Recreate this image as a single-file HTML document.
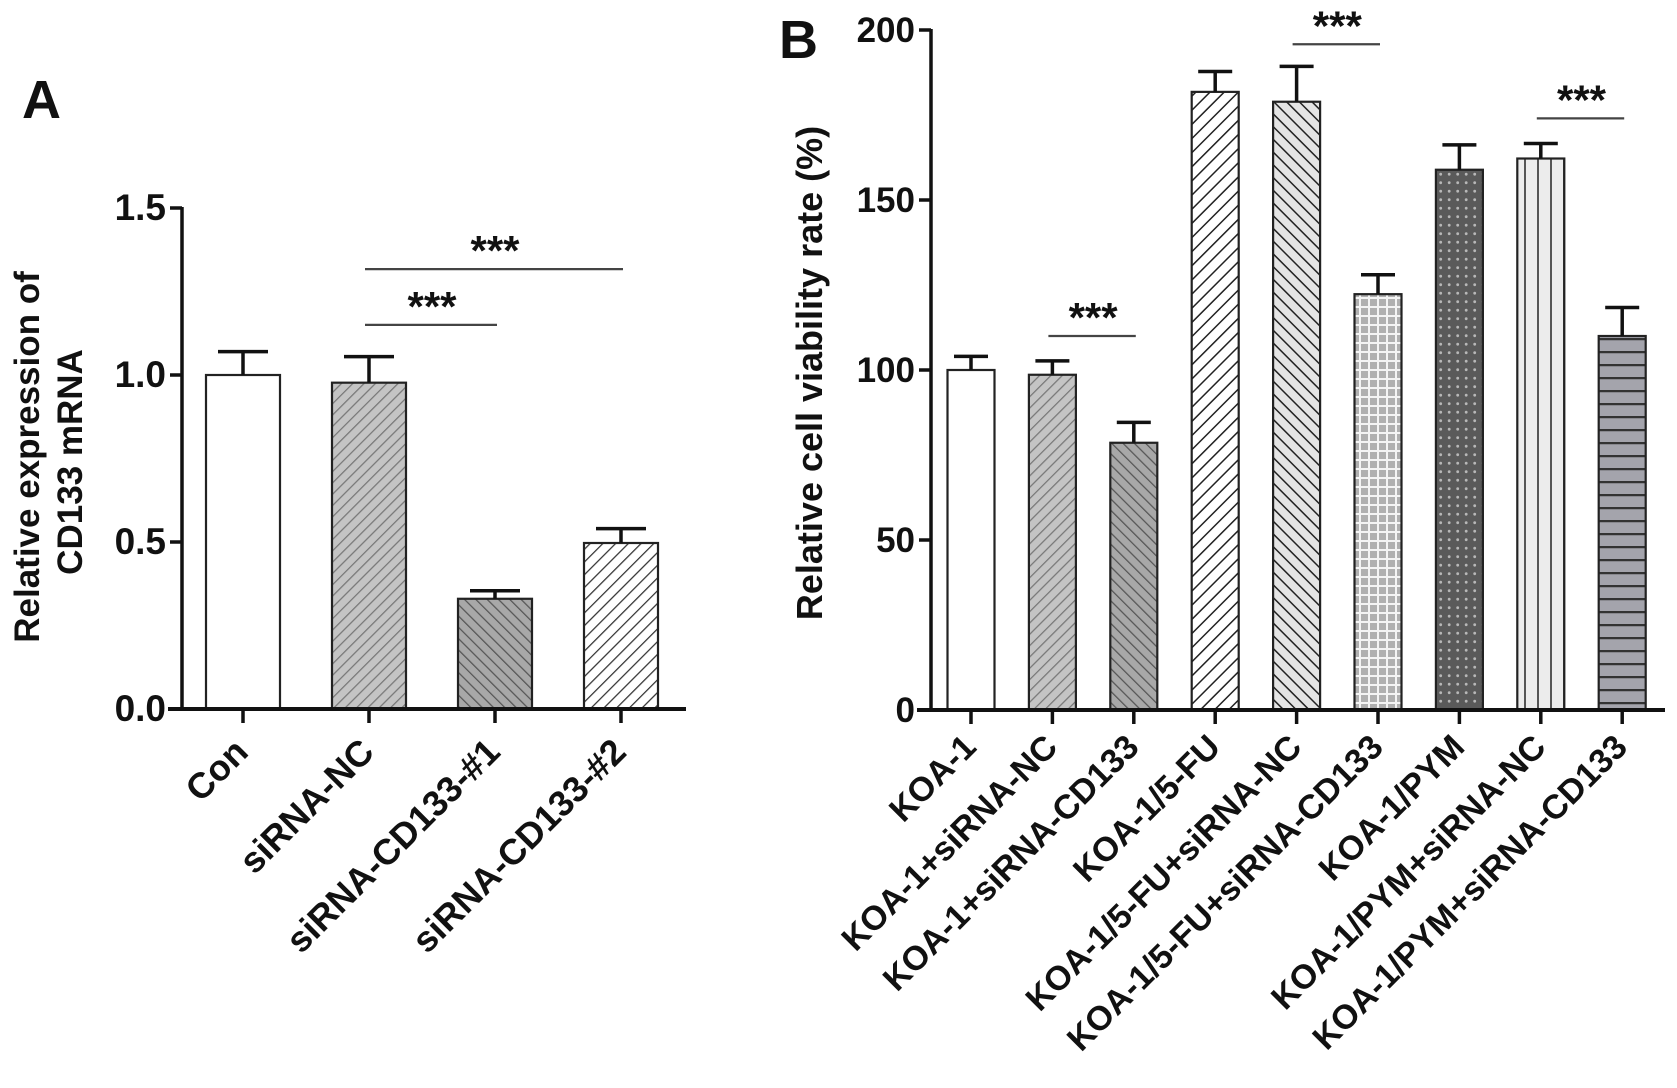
<!DOCTYPE html>
<html><head><meta charset="utf-8"><style>
html,body{margin:0;padding:0;background:#fff;}
svg{display:block;font-family:"Liberation Sans",Arial,sans-serif;font-weight:bold;}
</style></head><body>
<svg id="fig" width="1677" height="1088" viewBox="0 0 1677 1088" xmlns="http://www.w3.org/2000/svg">
<defs>
<pattern id="pA1" patternUnits="userSpaceOnUse" width="8" height="8" patternTransform="rotate(45)"><rect width="8" height="8" fill="#c4c4c4"/><line x1="0" y1="0" x2="0" y2="8" stroke="#777" stroke-width="2.5"/></pattern>
<pattern id="pA2" patternUnits="userSpaceOnUse" width="8" height="8" patternTransform="rotate(-45)"><rect width="8" height="8" fill="#a8a8a8"/><line x1="0" y1="0" x2="0" y2="8" stroke="#555" stroke-width="2.5"/></pattern>
<pattern id="pA3" patternUnits="userSpaceOnUse" width="9" height="9" patternTransform="rotate(45)"><rect width="9" height="9" fill="#fff"/><line x1="0" y1="0" x2="0" y2="9" stroke="#333" stroke-width="2.5"/></pattern>
<pattern id="pB4" patternUnits="userSpaceOnUse" width="10" height="10" patternTransform="rotate(45)"><rect width="10" height="10" fill="#fff"/><line x1="0" y1="0" x2="0" y2="10" stroke="#222" stroke-width="3"/></pattern>
<pattern id="pB5" patternUnits="userSpaceOnUse" width="9" height="9" patternTransform="rotate(-45)"><rect width="9" height="9" fill="#e4e4e4"/><line x1="0" y1="0" x2="0" y2="9" stroke="#222" stroke-width="3"/></pattern>
<pattern id="pB6" patternUnits="userSpaceOnUse" width="9" height="9"><rect width="9" height="9" fill="#b0b0b0"/><line x1="0" y1="1" x2="9" y2="1" stroke="#f4f4f4" stroke-width="2"/><line x1="1" y1="0" x2="1" y2="9" stroke="#f4f4f4" stroke-width="2"/></pattern>
<pattern id="pB7" patternUnits="userSpaceOnUse" width="8.5" height="8.5"><rect width="8.5" height="8.5" fill="#5a5a5a"/><circle cx="4.2" cy="4.2" r="1.4" fill="#b8b8b8"/></pattern>
<pattern id="pB8" patternUnits="userSpaceOnUse" width="13" height="13"><rect width="13" height="13" fill="#ececec"/><line x1="4" y1="0" x2="4" y2="13" stroke="#555" stroke-width="2"/></pattern>
<pattern id="pB9" patternUnits="userSpaceOnUse" width="13" height="13"><rect width="13" height="13" fill="#a4a4ac"/><line x1="0" y1="1" x2="13" y2="1" stroke="#333" stroke-width="2.5"/></pattern>
</defs>
<g id="panelA"></g>
<g id="panelB"></g>
</svg>
<script>
const catsA = ["Con","siRNA-NC","siRNA-CD133-#1","siRNA-CD133-#2"];
const valsA = [1.0, 0.977, 0.33, 0.497];
const errsA = [0.07, 0.078, 0.024, 0.043];
const ticksA = [0, 0.5, 1.0, 1.5];
const tickLabelsA = ["0.0","0.5","1.0","1.5"];
const fillsA = ["#fff","url(#pA1)","url(#pA2)","url(#pA3)"];
const sigA = [[1,3,1.317],[1,2,1.15]];

const catsB = ["KOA-1","KOA-1+siRNA-NC","KOA-1+siRNA-CD133","KOA-1/5-FU","KOA-1/5-FU+siRNA-NC","KOA-1/5-FU+siRNA-CD133","KOA-1/PYM","KOA-1/PYM+siRNA-NC","KOA-1/PYM+siRNA-CD133"];
const valsB = [100, 98.6, 78.6, 181.8, 178.9, 122.3, 158.9, 162.2, 110];
const errsB = [4, 4.1, 6, 6, 10.4, 5.7, 7.3, 4.4, 8.4];
const ticksB = [0, 50, 100, 150, 200];
const tickLabelsB = ["0","50","100","150","200"];
const fillsB = ["#fff","url(#pA1)","url(#pA2)","url(#pB4)","url(#pB5)","url(#pB6)","url(#pB7)","url(#pB8)","url(#pB9)"];
const sigB = [[1,2,110],[4,5,195.8],[7,8,174]];

const NS="http://www.w3.org/2000/svg";
function mk(parent,tag,attrs,text){const e=document.createElementNS(NS,tag);for(const k in attrs)e.setAttribute(k,attrs[k]);if(text!==undefined)e.textContent=text;parent.appendChild(e);return e;}

function drawPanel(g,cfg){
  const y=v=>cfg.y0-(v-cfg.vmin)/(cfg.vmax-cfg.vmin)*(cfg.y0-cfg.y1);
  const x=i=>cfg.xc0+i*cfg.step;
  cfg.vals.forEach((v,i)=>{
    const r=mk(g,"rect",{x:x(i)-cfg.bw/2,y:y(v),width:cfg.bw,height:y(cfg.vmin)-y(v),fill:cfg.fills[i],stroke:"#222","stroke-width":2.2});
    
    
    const e=mk(g,"path",{d:`M${x(i)},${y(v)}V${y(v+cfg.errs[i])}M${x(i)-cfg.cap},${y(v+cfg.errs[i])}H${x(i)+cfg.cap}`,stroke:"#111","stroke-width":3.5,fill:"none"});
    
    
    const t=mk(g,"line",{x1:x(i),x2:x(i),y1:y(cfg.vmin),y2:y(cfg.vmin)+14,stroke:"#111","stroke-width":3.5});
    
    
    const ax=x(i)+7, ay=y(cfg.vmin)+cfg.labOff;
    const lab=mk(g,"text",{x:ax,y:ay,"text-anchor":"end","font-size":cfg.xfs,transform:`rotate(-45 ${ax} ${ay})`,fill:"#111"},cfg.cats[i]);
    
    
  });
  const ya=mk(g,"line",{x1:cfg.ax,x2:cfg.ax,y1:y(cfg.vmax)-1,y2:y(cfg.vmin)+2,stroke:"#111","stroke-width":3.5});
  
  
  const xa=mk(g,"line",{x1:cfg.ax-14,x2:cfg.xend,y1:y(cfg.vmin),y2:y(cfg.vmin),stroke:"#111","stroke-width":4});
  
  
  cfg.ticks.forEach((t,i)=>{
    const l=mk(g,"line",{x1:cfg.ax-12,x2:cfg.ax,y1:y(t),y2:y(t),stroke:"#111","stroke-width":3.5});
    
    
    const tx=mk(g,"text",{x:cfg.ax-16,y:y(t)+12,"text-anchor":"end","font-size":cfg.yfs,fill:"#111"},cfg.tickLabels[i]);
    
    
  });
  cfg.sig.forEach(s=>{
    const l=mk(g,"line",{x1:x(s[0])-4,x2:x(s[1])+2,y1:y(s[2]),y2:y(s[2]),stroke:"#444","stroke-width":2.2});
    
    
    const st=mk(g,"text",{x:(x(s[0])+x(s[1]))/2,y:y(s[2])-4,"text-anchor":"middle","font-size":42,fill:"#111"},"***");
    
    
  });
}

const gA=document.getElementById('panelA');
drawPanel(gA,{vals:valsA,errs:errsA,cats:catsA,fills:fillsA,ticks:ticksA,tickLabels:tickLabelsA,sig:sigA,
  vmin:0,vmax:1.5,y0:709,y1:208,ax:182,xend:686,xc0:243,step:126,bw:74,cap:25,xfs:36,yfs:37,labOff:45});
const gB=document.getElementById('panelB');
drawPanel(gB,{vals:valsB,errs:errsB,cats:catsB,fills:fillsB,ticks:ticksB,tickLabels:tickLabelsB,sig:sigB,
  vmin:0,vmax:200,y0:710,y1:30,ax:931,xend:1665,xc0:971,step:81.4,bw:47,cap:17,xfs:34,yfs:35,labOff:39});

const ta=mk(gA,"text",{x:0,y:0,"font-size":35,"text-anchor":"middle",transform:"translate(39 457) rotate(-90)",fill:"#111"},"Relative expression of");


const ta2=mk(gA,"text",{x:0,y:0,"font-size":35,"text-anchor":"middle",transform:"translate(82 462) rotate(-90)",fill:"#111"},"CD133 mRNA");


const tb=mk(gB,"text",{x:0,y:0,"font-size":36,"text-anchor":"middle",transform:"translate(822 373) rotate(-90)",fill:"#111"},"Relative cell viability rate (%)");


const la=mk(gA,"text",{x:22,y:118,"font-size":54,fill:"#111"},"A");


const lb=mk(gB,"text",{x:779,y:58,"font-size":54,fill:"#111"},"B");


</script>
</body></html>
